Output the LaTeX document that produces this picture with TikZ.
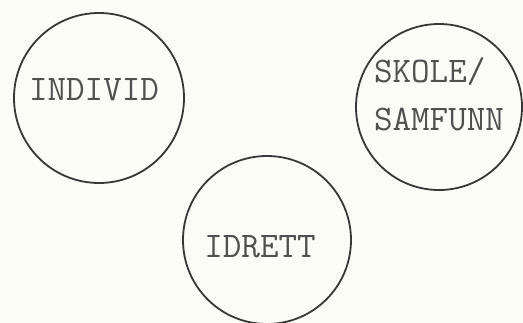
\documentclass[tikz,border=0pt]{standalone}
\usepackage{tikz}
\usetikzlibrary{positioning}
\definecolor{PaperWhite}{RGB}{252,252,247}
\definecolor{InkGray}{RGB}{55,55,55}
\definecolor{TypeGray}{RGB}{80,80,80}

\begin{document}
\begin{tikzpicture}[x=1pt, y=-1pt,
    ring/.style={circle, draw=InkGray, line width=1.8pt, inner sep=0pt},
    word/.style={font=\ttfamily\fontsize{36}{48}\selectfont, text=TypeGray, inner sep=0pt, align=left}
  ]
  \fill[PaperWhite] (0,0) rectangle (523,323);
  \useasboundingbox (0,0) rectangle (523,323);
  \node[ring, minimum size=170pt] (individ) at (99,98) {};
  \node[ring, minimum size=166pt] (skole) at (439,107) {};
  \node[ring, minimum size=168pt] (idrett) at (267,240) {};
  \node[word] (individ-text) at (94,90) {INDIVID};
  \node[word] (skole-text) at (439,94) {SKOLE/\\SAMFUNN};
  \node[word] (idrett-text) at (260,247) {IDRETT};
\end{tikzpicture}
\end{document}
